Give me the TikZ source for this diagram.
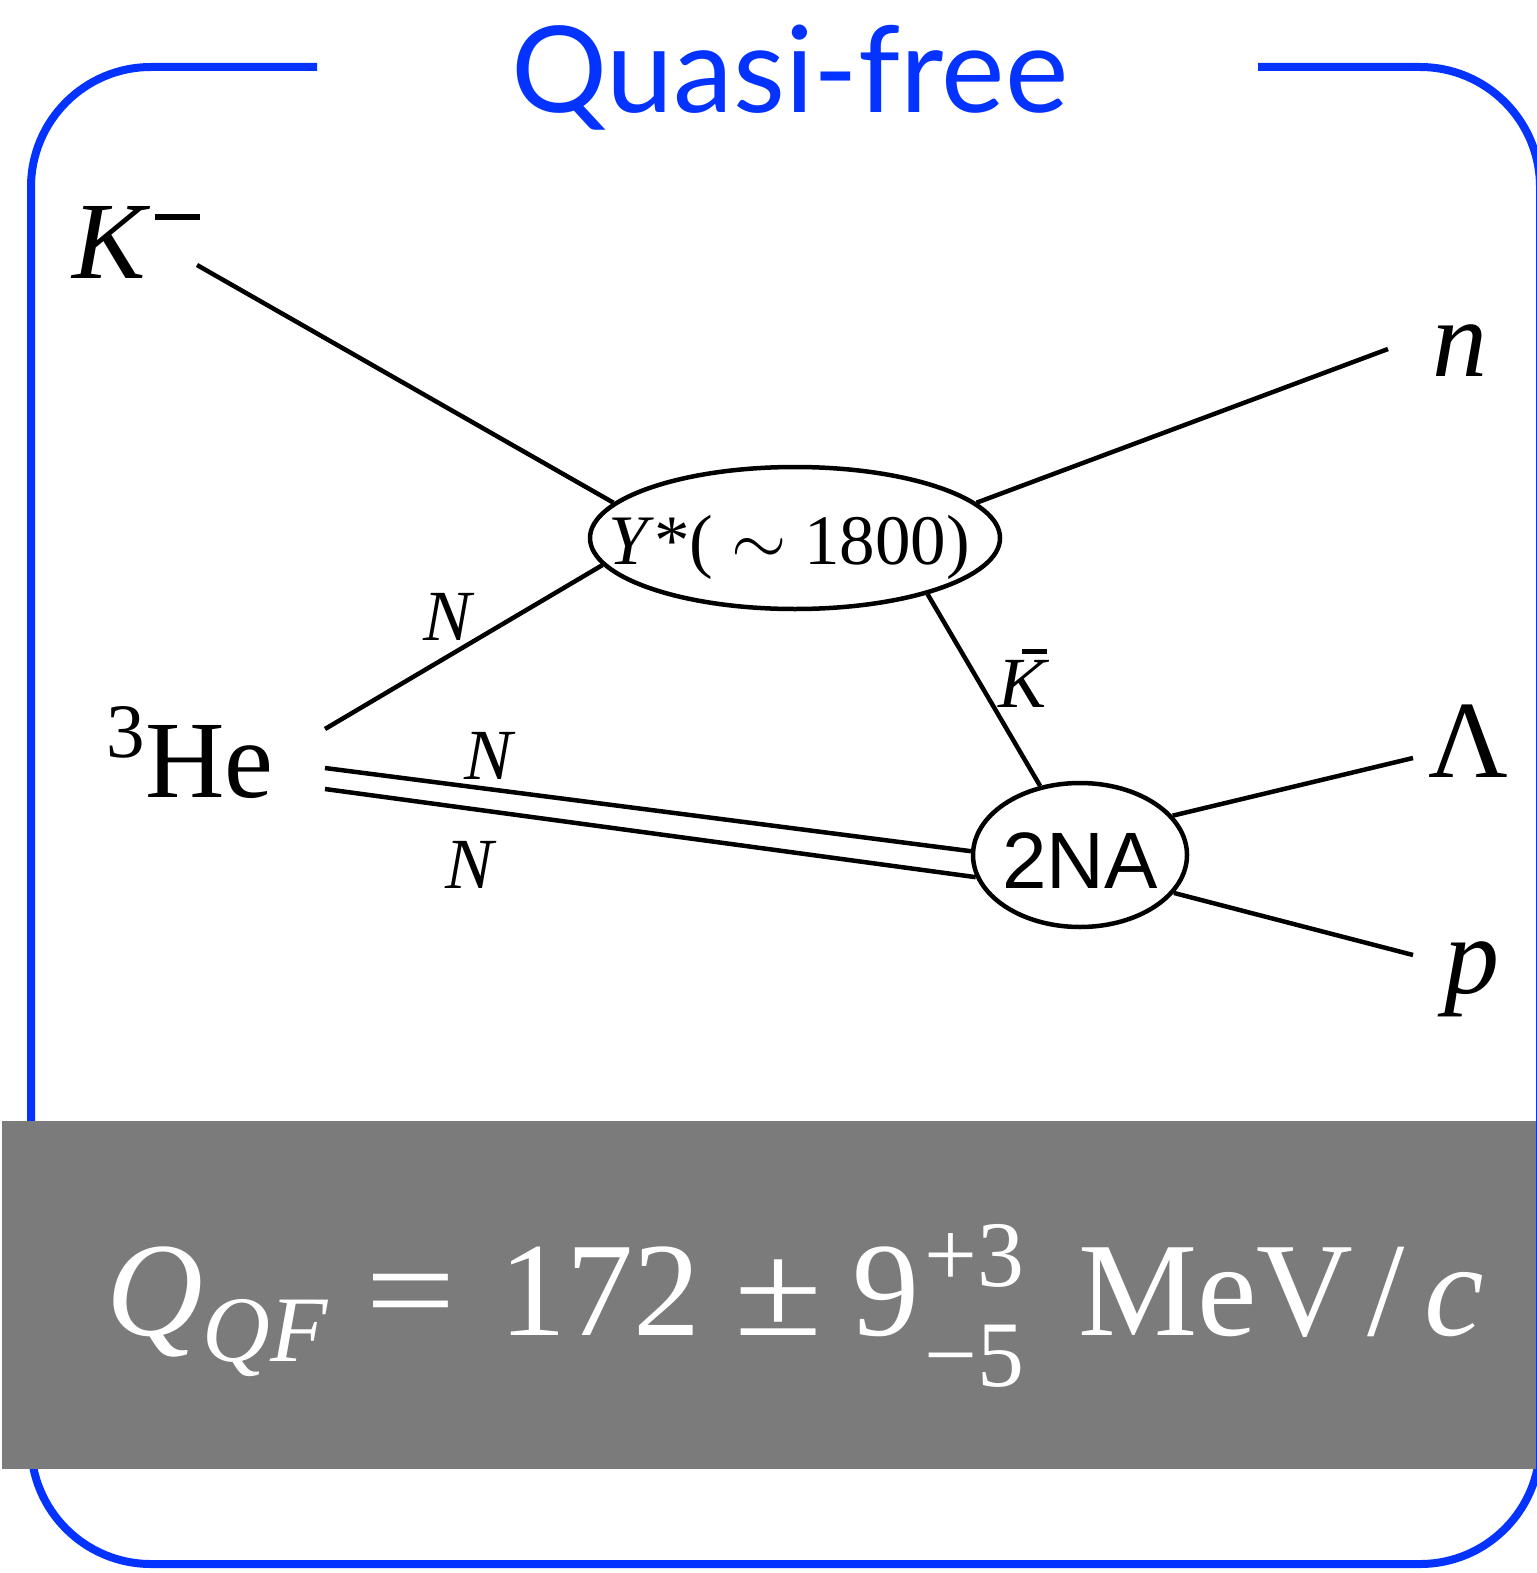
\RequirePackage{fix-cm}
\documentclass[tikz,border=0pt]{standalone}
\usepackage{amsmath}
\usepackage{graphicx}
\usepackage{fontspec}
\setmainfont{Liberation Serif}
\newfontfamily\titlefont{Lato}
\newfontfamily\arialfont{Liberation Sans}
\usetikzlibrary{shapes.geometric}
\definecolor{qfblue}{RGB}{4,51,255}
\definecolor{bargray}{RGB}{123,123,123}
\begin{document}
\begin{tikzpicture}[x=1pt,y=-1pt,
  prop/.style={line width=4.5pt, black},
  bigl/.style={inner sep=0pt, anchor=base west, font=\fontsize{110}{120}\selectfont},
  smalll/.style={inner sep=0pt, anchor=base west, font=\fontsize{72}{80}\selectfont},
  vertex/.style={draw, line width=4.5pt, ellipse, inner sep=0pt},
  frameline/.style={qfblue, line width=8pt, rounded corners=120pt}
]
\useasboundingbox (0,0) rectangle (1536,1573);
% frame
\draw[frameline] (317,67) -- (31,67) -- (31,1564) -- (1540,1564) -- (1540,67) -- (1258,67);
\node[inner sep=0pt, anchor=base west, text=qfblue, font=\titlefont\fontsize{120}{130}\selectfont] (title) at (511,113) {Quasi-free};
% vertices
\node[vertex, minimum width=410pt, minimum height=142pt] (Y) at (795,538) {};
\node[inner sep=0pt, font=\fontsize{71}{80}\selectfont] (Ylab) at (789,547) {\textit{Y}*( $\sim$ 1800)};
\node[vertex, minimum width=214pt, minimum height=144pt] (T) at (1080,855) {};
\node[inner sep=0pt, font=\arialfont\fontsize{80}{88}\selectfont] (Tlab) at (1080,861) {2NA};
% particle labels
\node[bigl] (km) at (72,278) {\textit{K}\hspace{5pt}\raisebox{58pt}{\rule{45pt}{6pt}}};
\node[bigl] (n) at (1432,376) {\textit{n}};
\node[bigl] (he) at (106,797) {$^{\text{3}}$He};
\node[bigl] (lam) at (1428,777) {\char"039B};
\node[bigl] (p) at (1444,993) {\textit{p}};
% internal labels
\node[smalll] (N1) at (423,640) {\textit{N}};
\node[smalll] (N2) at (464,779) {\textit{N}};
\node[smalll] (N3) at (445,888) {\textit{N}};
\node[smalll] (kb) at (998,707) {\makebox[0pt][l]{\hspace{24pt}\raisebox{53pt}{\rule{25pt}{5pt}}}\textit{K}};
% free ends
\coordinate (kin) at (197,265);
\coordinate (nout) at (1388,349);
\coordinate (heA) at (325,729);
\coordinate (heB) at (325,768);
\coordinate (heC) at (325,789);
\coordinate (lout) at (1413,758);
\coordinate (pout) at (1413,955);
% connectors
\draw[prop] (kin) -- (Y.169);
\draw[prop] (Y.11) -- (nout);
\draw[prop] (heA) -- (Y.-172);
\draw[prop] (Y.-23) -- (T.120);
\draw[prop] (heB) -- (T.178);
\draw[prop] (heC) -- (T.-168);
\draw[prop] (T.23) -- (lout);
\draw[prop] (T.-22) -- (pout);
% result bar
\fill[bargray] (2,1121) rectangle (1536,1469);
\node[inner sep=0pt, anchor=base west, text=white, font=\fontsize{134}{140}\selectfont] (qf) at (106,1335)
  {$\textit{Q}_{\textit{QF}} \mathrel{\scalebox{1.2}[1]{=}} \hspace{6pt}\text{172} \hspace{4pt}\mathbin{\scalebox{1.2}[1]{\char"00B1}} \text{9}\hspace{5pt}^{\text{+3}}_{\raisebox{-18pt}{$\scriptstyle \text{\char"2212 5}$}}\hspace{0.4em}\text{MeV}\hspace{0.1em}\text{/}\hspace{0.15em}\textit{c}$};
\end{tikzpicture}
\end{document}
